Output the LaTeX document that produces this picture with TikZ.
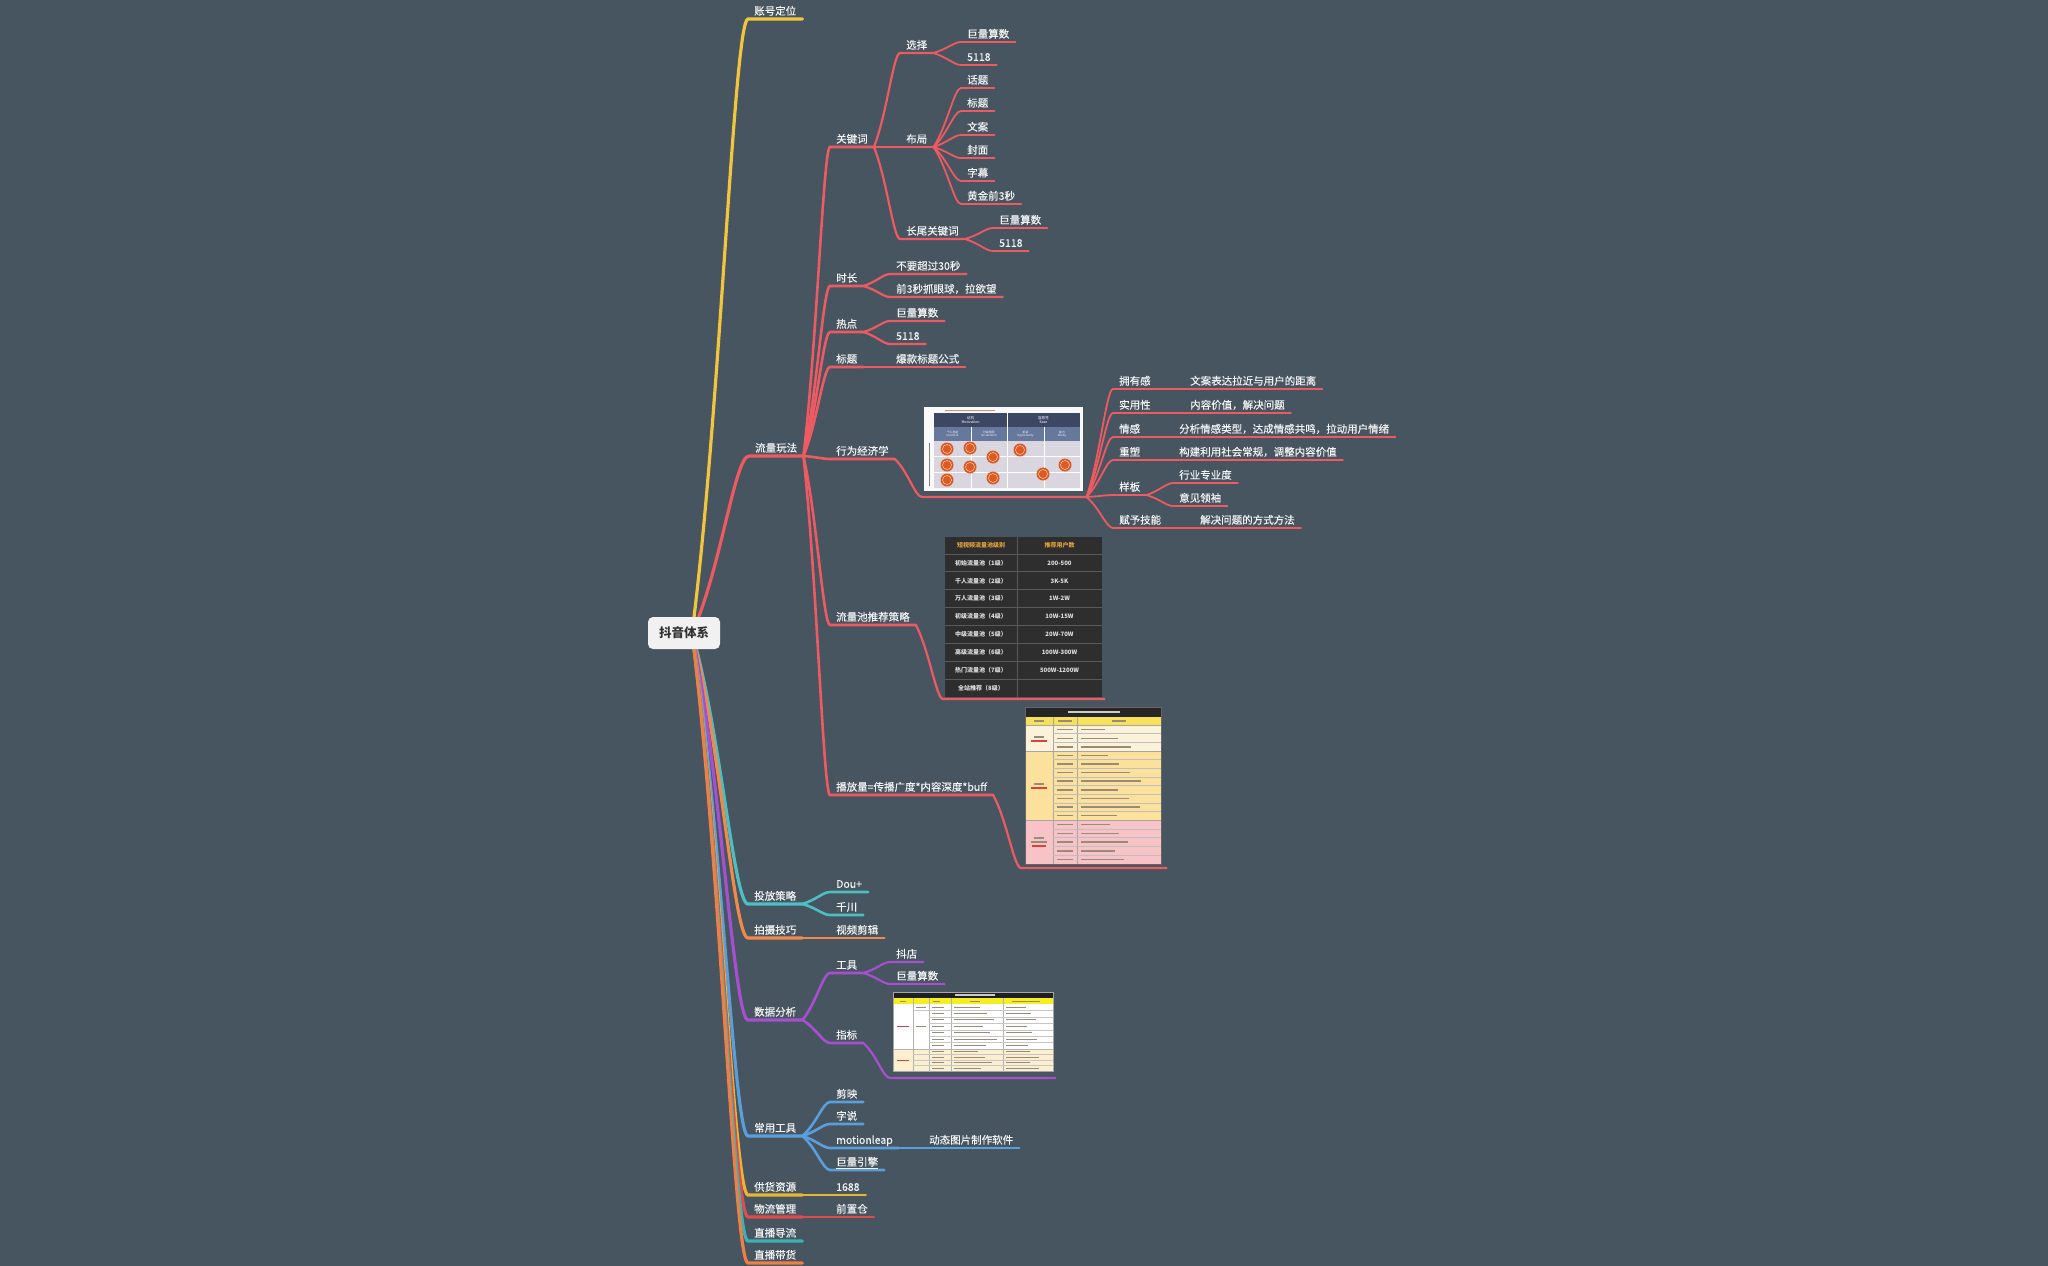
\documentclass[tikz,border=0pt]{standalone}
\usepackage{fontspec}
\setmainfont{Noto Sans CJK SC}
\newfontfamily\mf{Noto Sans CJK SC}[FakeBold=0.3]
\usetikzlibrary{calc}
\definecolor{bgc}{HTML}{465560}
\definecolor{cyel}{HTML}{F2C53D}
\definecolor{cred}{HTML}{EE5A62}
\definecolor{cteal}{HTML}{4DBFC3}
\definecolor{corg}{HTML}{F08A4B}
\definecolor{cpur}{HTML}{A650D0}
\definecolor{cblu}{HTML}{5A9EDC}
\definecolor{cgold}{HTML}{E8B630}
\definecolor{credb}{HTML}{E04B4B}
\definecolor{ctealb}{HTML}{3DB2B2}
\definecolor{corgb}{HTML}{EF7F42}
\definecolor{txt}{HTML}{F3F3F3}
\definecolor{rootc}{HTML}{F1F1F1}
\definecolor{tblc}{HTML}{2E2E2E}
\definecolor{tline}{HTML}{5A5A5A}
\definecolor{thd}{HTML}{E3A33C}
\definecolor{hdr}{HTML}{3B4763}
\definecolor{subh}{HTML}{66789C}
\definecolor{bodyc}{HTML}{D9D6DF}
\definecolor{circ}{HTML}{DD5A22}
\definecolor{yhd}{HTML}{F7E15A}
\definecolor{secA}{HTML}{FCF2DA}
\definecolor{secB}{HTML}{FBE19C}
\definecolor{secC}{HTML}{F8C3C6}
\definecolor{gbar}{HTML}{9A8A78}
\definecolor{rbar}{HTML}{E0403A}
\definecolor{yfour}{HTML}{F5EE20}
\definecolor{cfour}{HTML}{FBEFD0}
\pgfdeclarelayer{bgl}\pgfdeclarelayer{edges}\pgfsetlayers{bgl,edges,main}
\tikzset{
 tp/.style={anchor=south west, text=txt, font=\mf\fontsize{10.5}{12}\selectfont, inner xsep=6pt, inner ysep=4pt, text height=7.6pt, text depth=0pt},
 imgn/.style={anchor=south west, inner sep=0pt},
 rootn/.style={fill=rootc, rounded corners=5pt, minimum width=72pt, minimum height=32pt, text=black!80, font=\fontsize{12.5}{14}\selectfont\bfseries, inner sep=0pt},
 cv/.style={to path={let \p1=(\tikztostart), \p2=(\tikztotarget) in .. controls ({\x1+0.5*(\x2-\x1)},{\y1+0.35*(\y2-\y1)}) and ({\x1+0.75*(\x2-\x1)},{\y2}) .. (\tikztotarget)}},
 lone/.style={line width=3.2pt, line cap=round},
 ltwo/.style={line width=2.6pt, line cap=round},
 lthree/.style={line width=2.2pt, line cap=round},
 lfour/.style={line width=1.8pt, line cap=round},
 tbt/.style={font=\fontsize{6}{6.5}\selectfont\bfseries, text=white!88!black, inner sep=0pt},
 tiny/.style={font=\fontsize{3.6}{4}\selectfont, text=white, align=center, inner sep=0pt},
 tinier/.style={font=\fontsize{2.8}{3.2}\selectfont, text=white, align=center, inner sep=0pt},
}
\newcommand\edg[3]{\draw[#1] (#2) to[cv] (#3.south west) -- (#3.south east);}
\begin{document}
\begin{tikzpicture}[x=1pt,y=-1pt]
\useasboundingbox (0,0) rectangle (2048,1266);
\begin{pgfonlayer}{bgl}\fill[bgc] (0,0) rectangle (2048,1266);\end{pgfonlayer}

% root
\node[rootn] (root) at (684,633) {抖音体系};
\coordinate (rj) at (692,633);

% level 1
\node[tp] (zh) at (748,19) {账号定位};
\node[tp] (ll) at (749,456) {流量玩法};
\node[tp] (tf) at (748,904) {投放策略};
\node[tp] (ps) at (748,938) {拍摄技巧};
\node[tp] (sj) at (748,1020) {数据分析};
\node[tp] (cy) at (748,1136) {常用工具};
\node[tp] (gh) at (748,1195) {供货资源};
\node[tp] (wl) at (748,1217) {物流管理};
\node[tp] (dl) at (748,1241) {直播导流};
\node[tp] (dh) at (748,1263) {直播带货};

% 流量玩法 children
\node[tp] (gjc) at (830,147) {关键词};
\node[tp] (sc) at (830,286) {时长};
\node[tp] (rd) at (830,332) {热点};
\node[tp] (bt) at (830,367) {标题};
\node[tp] (xw) at (830,459) {行为经济学};
\node[tp] (llc) at (830,625) {流量池推荐策略};
\node[tp] (bfl) at (830,795) {播放量=传播广度*内容深度*buff};

% 关键词
\node[tp] (xz) at (900,53) {选择};
\node[tp] (jla) at (961,42) {巨量算数};
\node[tp] (sa) at (961,65) {5118};
\node[tp] (bj) at (900,147) {布局};
\node[tp] (ht) at (961,88) {话题};
\node[tp] (btb) at (961,111) {标题};
\node[tp] (wa) at (961,135) {文案};
\node[tp] (fm) at (961,158) {封面};
\node[tp] (zm) at (961,181) {字幕};
\node[tp] (hj) at (961,204) {黄金前3秒};
\node[tp] (cw) at (900,239) {长尾关键词};
\node[tp] (jlb) at (993,228) {巨量算数};
\node[tp] (sb) at (993,251) {5118};

% 时长 / 热点 / 标题
\node[tp] (bc) at (890,274) {不要超过30秒};
\node[tp] (qs) at (890,297) {前3秒抓眼球，拉欲望};
\node[tp] (jlc) at (890,321) {巨量算数};
\node[tp] (sd) at (890,344) {5118};
\node[tp] (bk) at (890,367) {爆款标题公式};

% 行为经济学 image
\node[imgn, minimum width=164pt, minimum height=92pt] (img1) at (922,497) {};
\fill[white!95!gray] (924,407) rectangle (1083,491);
\fill[circ!70] (945,409.6) rectangle (995,411.4);
\fill[hdr] (934,413) rectangle (1080,427);
\fill[subh] (934,427) rectangle (1080,441);
\fill[bodyc] (934,441) rectangle (1080,488);
\draw[white, line width=0.7pt] (1007,413) -- (1007,488);
\draw[white, line width=0.5pt] (971,427) -- (971,488) (1044,427) -- (1044,488) (934,456) -- (1080,456) (934,472) -- (1080,472);
\node[tiny] (ma) at (970.5,420) {动机\\Motivation};
\node[tiny] (mb) at (1043.5,420) {容易性\\Ease};
\node[tinier] (sua) at (952.5,434) {个人利益\\Incentive};
\node[tinier] (sub) at (989,434) {社会规范\\Social Norm};
\node[tinier] (suc) at (1025.5,434) {机会\\Opportunity};
\node[tinier] (sud) at (1062,434) {能力\\Ability};
\draw[gray, line width=0.5pt] (929,443) -- (929,486);
\foreach \x/\y in {947/449, 970/448, 993/457, 1020/450, 947/465, 970/467, 947/480, 993/478, 1043/474, 1065/465}
  {\fill[circ] (\x,\y) circle (6.5pt); \draw[white!85!circ, line width=0.4pt] (\x,\y) circle (4.5pt);}

\node[tp] (yyg) at (1113,389) {拥有感};
\node[tp] (waa) at (1184,389) {文案表达拉近与用户的距离};
\node[tp] (syx) at (1113,413) {实用性};
\node[tp] (nr) at (1184,413) {内容价值，解决问题};
\node[tp] (qg) at (1113,437) {情感};
\node[tp] (fx) at (1173,437) {分析情感类型，达成情感共鸣，拉动用户情绪};
\node[tp] (cs) at (1113,460) {重塑};
\node[tp] (gj) at (1173,460) {构建利用社会常规，调整内容价值};
\node[tp] (yb) at (1113,495) {样板};
\node[tp] (hy) at (1173,483) {行业专业度};
\node[tp] (yj) at (1173,506) {意见领袖};
\node[tp] (fy) at (1113,528) {赋予技能};
\node[tp] (jj) at (1194,528) {解决问题的方式方法};

% 流量池 table
\node[imgn, minimum width=161pt, minimum height=164pt] (tbl) at (943,699) {};
\fill[tblc] (945,537) rectangle (1102,697);
\draw[tline, line width=0.8pt] (1017,537) -- (1017,697);
\foreach \k in {0,...,7} \draw[tline, line width=0.8pt] (945,{554+17.875*\k}) -- (1102,{554+17.875*\k});
\node[tbt, text=thd] (tha) at (981,545.5) {短视频流量池级别};
\node[tbt, text=thd] (thb) at (1059.5,545.5) {推荐用户数};
\foreach \a/\b [count=\i] in {初始流量池（1级）/200-500, 千人流量池（2级）/3K-5K, 万人流量池（3级）/1W-2W, 初级流量池（4级）/10W-15W, 中级流量池（5级）/20W-70W, 高级流量池（6级）/100W-300W, 热门流量池（7级）/500W-1200W, 全站推荐（8级）/{}} {
  \node[tbt] (tra\i) at (981,{554+17.875*(\i-0.5)}) {\a};
  \node[tbt] (trb\i) at (1059.5,{554+17.875*(\i-0.5)}) {\b};
}

% 播放量 image
\node[imgn, minimum width=145pt, minimum height=163pt] (img3) at (1021,868) {};
\fill[white] (1025,707) rectangle (1161,865);
\fill[secA] (1025,725) rectangle (1161,751);
\fill[secB] (1025,751) rectangle (1161,820);
\fill[secC] (1025,820) rectangle (1161,864);
\fill[black!85] (1025,707) rectangle (1161,717);
\fill[white!80!black] (1068,711.3) rectangle (1120,712.8);
\fill[yhd] (1025,717) rectangle (1161,725);
\draw[gray!70, line width=0.4pt] (1053,717) -- (1053,864) (1077,717) -- (1077,864);
\foreach \k in {1,2} \draw[gray!50, line width=0.4pt] (1053,{725+8.67*\k}) -- (1161,{725+8.67*\k});
\foreach \k in {1,...,7} \draw[gray!50, line width=0.4pt] (1053,{751+8.625*\k}) -- (1161,{751+8.625*\k});
\foreach \k in {1,...,4} \draw[gray!50, line width=0.4pt] (1053,{820+8.8*\k}) -- (1161,{820+8.8*\k});
\draw[gray!70, line width=0.4pt] (1025,725) -- (1161,725) (1025,751) -- (1161,751) (1025,820) -- (1161,820);
\draw[black!60, line width=0.6pt] (1025,707) rectangle (1161,864);
\foreach \k in {0,1,2} {
  \fill[gbar] (1057,{729+8.67*\k}) rectangle (1073,{730.4+8.67*\k});
  \fill[gbar] (1081,{729+8.67*\k}) rectangle ({1105+mod(\k*13,30)},{730.4+8.67*\k});
}
\foreach \k in {0,...,7} {
  \fill[gbar] (1057,{754.6+8.625*\k}) rectangle (1073,{756+8.625*\k});
  \fill[gbar] (1081,{754.6+8.625*\k}) rectangle ({1108+mod(\k*11,34)},{756+8.625*\k});
}
\foreach \k in {0,...,4} {
  \fill[gbar] (1057,{823.7+8.8*\k}) rectangle (1073,{825.1+8.8*\k});
  \fill[gbar] (1081,{823.7+8.8*\k}) rectangle ({1110+mod(\k*9,22)},{825.1+8.8*\k});
}
\fill[gbar] (1034,720.3) rectangle (1044,721.7);
\fill[gbar] (1058,720.3) rectangle (1072,721.7);
\fill[gbar] (1112,720.3) rectangle (1126,721.7);
\fill[gbar] (1034,736.3) rectangle (1044,737.7);
\fill[rbar] (1031,740.3) rectangle (1047,741.7);
\fill[gbar] (1034,783.3) rectangle (1044,784.7);
\fill[rbar] (1031,787.3) rectangle (1047,788.7);
\fill[gbar] (1034,837.3) rectangle (1044,838.7);
\fill[gbar] (1031,841.3) rectangle (1047,842.7);
\fill[rbar] (1032,845.3) rectangle (1046,846.7);

% 投放策略 / 拍摄技巧
\node[tp] (dou) at (830,892) {Dou+};
\node[tp] (qc) at (830,915) {千川};
\node[tp] (sp) at (830,938) {视频剪辑};

% 数据分析
\node[tp] (gju) at (830,973) {工具};
\node[tp] (dd) at (890,962) {抖店};
\node[tp] (jld) at (890,984) {巨量算数};
\node[tp] (zb) at (830,1043) {指标};
\node[imgn, minimum width=165pt, minimum height=88pt] (img4) at (890,1078) {};
\fill[white] (893,992) rectangle (1053,1071);
\fill[cfour] (893,1049) rectangle (1053,1071);
\fill[black!88] (893,992) rectangle (1053,998);
\fill[white!80!black] (955,994.4) rectangle (995,995.6);
\fill[yfour] (893,998) rectangle (1053,1004);
\draw[gray!60, line width=0.4pt] (913,998) -- (913,1071) (929,998) -- (929,1071) (951,998) -- (951,1071) (1003,998) -- (1003,1071);
\foreach \k in {1,...,6} \draw[gray!45, line width=0.4pt] (929,{1004+6.43*\k}) -- (1053,{1004+6.43*\k});
\draw[gray!45, line width=0.4pt] (913,1010.4) -- (929,1010.4);
\foreach \k in {1,2,3} \draw[gray!45, line width=0.4pt] (913,{1049+5.5*\k}) -- (1053,{1049+5.5*\k});
\draw[gray!60, line width=0.4pt] (893,1049) -- (1053,1049);
\draw[gray!70, line width=0.5pt] (893,992) rectangle (1053,1071);
\foreach \k in {0,...,6} {
  \fill[gbar] (932,{1006.6+6.43*\k}) rectangle (944,{1007.6+6.43*\k});
  \fill[gbar] (954,{1006.6+6.43*\k}) rectangle ({980+mod(\k*7,18)},{1007.6+6.43*\k});
  \fill[gbar] (1006,{1006.6+6.43*\k}) rectangle ({1026+mod(\k*5,14)},{1007.6+6.43*\k});
}
\foreach \k in {0,...,3} {
  \fill[gbar] (932,{1051.2+5.5*\k}) rectangle (944,{1052.2+5.5*\k});
  \fill[gbar] (954,{1051.2+5.5*\k}) rectangle ({978+mod(\k*7,18)},{1052.2+5.5*\k});
  \fill[gbar] (1006,{1051.2+5.5*\k}) rectangle ({1030+mod(\k*9,18)},{1052.2+5.5*\k});
}
\fill[gbar] (916,1006.6) rectangle (926,1007.6);
\fill[gbar] (916,1026) rectangle (926,1027);
\fill[rbar] (897,1026) rectangle (909,1027);
\fill[rbar] (897,1059.5) rectangle (909,1060.5);
\fill[gbar] (900,1000.5) rectangle (906,1001.5);
\fill[gbar] (933,1000.5) rectangle (940,1001.5);
\fill[gbar] (970,1000.5) rectangle (980,1001.5);
\fill[gbar] (1012,1000.5) rectangle (1040,1001.5);

% 常用工具
\node[tp] (jy) at (830,1102) {剪映};
\node[tp] (zs) at (830,1124) {字说};
\node[tp] (ml) at (830,1148) {motionleap};
\node[tp] (dt) at (923,1148) {动态图片制作软件};
\node[tp] (jyq) at (830,1170) {\underline{巨量引擎}};

% 供货资源 / 物流管理
\node[tp] (yl) at (830,1195) {1688};
\node[tp] (qz) at (830,1217) {前置仓};

\begin{pgfonlayer}{edges}
\edg{lone,cyel}{rj}{zh}
\edg{lone,cred}{rj}{ll}
\edg{lone,cteal}{rj}{tf}
\edg{lone,corg}{rj}{ps}
\edg{lone,cpur}{rj}{sj}
\edg{lone,cblu}{rj}{cy}
\edg{lone,cgold}{rj}{gh}
\edg{lone,credb}{rj}{wl}
\edg{lone,ctealb}{rj}{dl}
\edg{lone,corgb}{rj}{dh}
\foreach \c in {gjc,sc,rd,bt,xw,llc,bfl} {\edg{ltwo,cred}{ll.south east}{\c}}
\foreach \c in {xz,bj,cw} {\edg{lthree,cred}{gjc.south east}{\c}}
\foreach \c in {jla,sa} {\edg{lfour,cred}{xz.south east}{\c}}
\foreach \c in {ht,btb,wa,fm,zm,hj} {\edg{lfour,cred}{bj.south east}{\c}}
\foreach \c in {jlb,sb} {\edg{lfour,cred}{cw.south east}{\c}}
\foreach \c in {bc,qs} {\edg{lthree,cred}{sc.south east}{\c}}
\foreach \c in {jlc,sd} {\edg{lthree,cred}{rd.south east}{\c}}
\edg{lthree,cred}{bt.south east}{bk}
\edg{lthree,cred}{xw.south east}{img1}
\edg{lthree,cred}{llc.south east}{tbl}
\edg{lthree,cred}{bfl.south east}{img3}
\foreach \c in {yyg,syx,qg,cs,yb,fy} {\edg{lfour,cred}{img1.south east}{\c}}
\edg{lfour,cred}{yyg.south east}{waa}
\edg{lfour,cred}{syx.south east}{nr}
\edg{lfour,cred}{qg.south east}{fx}
\edg{lfour,cred}{cs.south east}{gj}
\edg{lfour,cred}{yb.south east}{hy}
\edg{lfour,cred}{yb.south east}{yj}
\edg{lfour,cred}{fy.south east}{jj}
\foreach \c in {dou,qc} {\edg{ltwo,cteal}{tf.south east}{\c}}
\edg{ltwo,corg}{ps.south east}{sp}
\foreach \c in {gju,zb} {\edg{ltwo,cpur}{sj.south east}{\c}}
\foreach \c in {dd,jld} {\edg{lthree,cpur}{gju.south east}{\c}}
\edg{lthree,cpur}{zb.south east}{img4}
\foreach \c in {jy,zs,ml,jyq} {\edg{ltwo,cblu}{cy.south east}{\c}}
\edg{lthree,cblu}{ml.south east}{dt}
\edg{ltwo,cgold}{gh.south east}{yl}
\edg{ltwo,credb}{wl.south east}{qz}
\end{pgfonlayer}
\end{tikzpicture}
\end{document}
